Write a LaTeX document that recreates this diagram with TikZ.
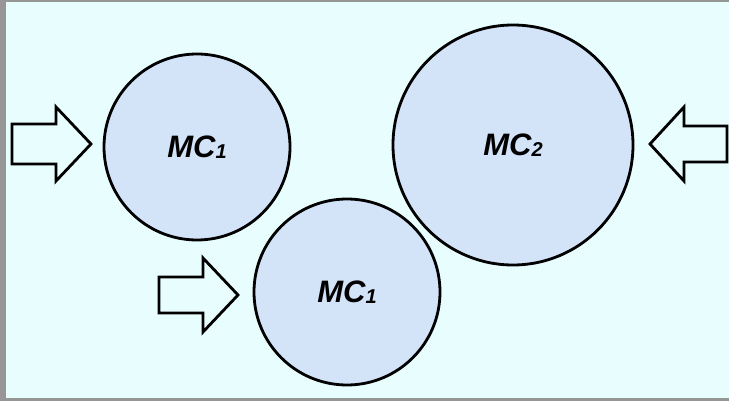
\documentclass[tikz,border=0pt]{standalone}
\usepackage{fontspec}
\setmainfont{Liberation Sans}
\definecolor{bgcyan}{RGB}{232,253,254}
\definecolor{circfill}{RGB}{211,227,248}
\definecolor{frame}{RGB}{150,150,150}
\tikzset{
  mc/.style={circle, draw=black, line width=2.8pt, fill=circfill, inner sep=0pt,
    font=\fontsize{31}{32}\selectfont\bfseries\itshape},
  inarrow/.style={draw=black, line width=2.8pt, fill=bgcyan, line join=miter}
}
\newcommand{\mcsub}[1]{MC\raisebox{-1pt}{\fontsize{20}{21}\selectfont #1}}
\begin{document}
\begin{tikzpicture}[x=1pt,y=-1pt]
\useasboundingbox (0,0) rectangle (729,401);
\fill[frame] (0,0) rectangle (729,401);
\fill[bgcyan] (6,2) rectangle (729,398);
% circles
\node[mc, minimum size=186pt] (mc1a) at (197,147) {\mcsub{1}};
\node[mc, minimum size=240pt] (mc2) at (513,145) {\mcsub{2}};
\node[mc, minimum size=186pt] (mc1b) at (347,292) {\mcsub{1}};
% arrows
\draw[inarrow] (12,124) -- (56,124) -- (56,107) -- (91,144) -- (56,181) -- (56,164) -- (12,164) -- cycle;
\draw[inarrow] (727,126) -- (684,126) -- (684,107) -- (650,144) -- (684,181) -- (684,162) -- (727,162) -- cycle;
\draw[inarrow] (159,277) -- (203,277) -- (203,258) -- (238,295) -- (203,332) -- (203,313) -- (159,313) -- cycle;
\end{tikzpicture}
\end{document}
